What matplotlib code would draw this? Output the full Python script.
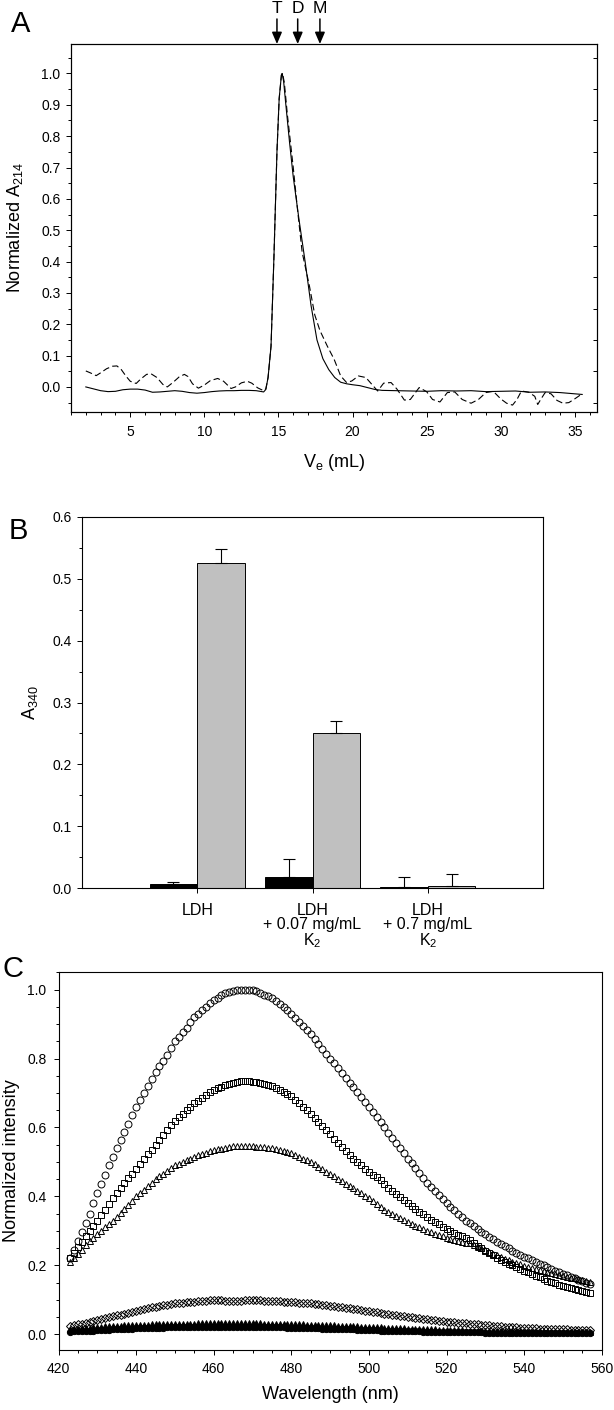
import numpy as np
import matplotlib
matplotlib.use("Agg")
import matplotlib.pyplot as plt
import matplotlib.transforms as mtransforms
from matplotlib.ticker import MultipleLocator, FormatStrFormatter

plt.rcParams['font.family'] = ['Liberation Sans', 'DejaVu Sans']
plt.rcParams['mathtext.fontset'] = 'custom'
plt.rcParams['mathtext.rm'] = 'Liberation Sans'
plt.rcParams['mathtext.default'] = 'regular'

# ---------------- panel A : elution profiles ----------------
ve_solid = [2.0, 2.5, 3.0, 3.5, 4.0, 4.5, 5.0, 5.5, 6.0, 6.5, 7.0, 7.5, 8.0, 8.5,
            9.0, 9.5, 10.0, 10.5, 11.0, 11.5, 12.0, 12.5, 13.0, 13.5, 14.0, 14.15,
            14.3, 14.5, 14.7, 14.9, 15.05, 15.2, 15.25, 15.35, 15.5, 15.75, 16.0,
            16.4, 16.8, 17.2, 17.6, 18.0, 18.4, 18.8, 19.2, 19.6, 20.0, 20.5, 21.0,
            21.5, 22.0, 23.0, 24.0, 25.0, 26.0, 27.0, 28.0, 29.0, 30.0, 31.0, 32.0,
            33.0, 34.0, 35.0, 35.5]
a_solid = [0.000, -0.006, -0.012, -0.015, -0.014, -0.009, -0.007, -0.007, -0.010,
           -0.017, -0.016, -0.014, -0.012, -0.014, -0.018, -0.020, -0.018, -0.015,
           -0.013, -0.012, -0.012, -0.011, -0.011, -0.012, -0.016, -0.008, 0.03,
           0.13, 0.42, 0.75, 0.92, 0.995, 1.000, 0.975, 0.90, 0.78, 0.67, 0.53,
           0.40, 0.26, 0.15, 0.09, 0.055, 0.030, 0.015, 0.010, 0.007, 0.004,
           -0.002, -0.008, -0.011, -0.012, -0.013, -0.014, -0.012, -0.013, -0.012,
           -0.015, -0.014, -0.013, -0.017, -0.016, -0.018, -0.022, -0.024]

ve_dash = [2.0, 2.3, 2.7, 3.0, 3.4, 3.8, 4.1, 4.4, 4.7, 5.0, 5.4, 5.7, 6.1, 6.4,
           6.8, 7.2, 7.5, 7.9, 8.3, 8.65, 8.9, 9.2, 9.6, 10.0, 10.4, 10.9, 11.3,
           11.8, 12.1, 12.5, 12.9, 13.2, 13.6, 14.0, 14.15, 14.3, 14.5, 14.7, 14.9,
           15.05, 15.2, 15.28, 15.4, 15.6, 16.0, 16.3, 16.6, 17.1, 17.45, 17.8,
           18.3, 18.76, 19.2, 19.6, 19.95, 20.4, 20.9, 21.4, 21.7, 22.1, 22.6,
           23.0, 23.5, 23.9, 24.5, 25.0, 25.4, 25.9, 26.4, 26.9, 27.4, 28.0, 28.5,
           29.0, 29.5, 30.0, 30.4, 30.8, 31.1, 31.4, 31.9, 32.3, 32.5, 32.7, 33.0,
           33.4, 33.8, 34.2, 34.6, 35.0, 35.4]
a_dash = [0.051, 0.045, 0.036, 0.045, 0.058, 0.066, 0.067, 0.055, 0.035, 0.018,
          0.011, 0.025, 0.040, 0.042, 0.030, 0.008, 0.000, 0.015, 0.032, 0.040,
          0.033, 0.010, -0.004, 0.006, 0.020, 0.027, 0.018, -0.005, 0.000, 0.013,
          0.018, 0.012, -0.003, -0.012, -0.006, 0.03, 0.13, 0.42, 0.75, 0.92,
          0.995, 1.000, 0.97, 0.87, 0.70, 0.56, 0.43, 0.32, 0.23, 0.18, 0.13,
          0.088, 0.035, 0.014, 0.019, 0.035, 0.030, 0.003, -0.013, 0.012, 0.014,
          -0.007, -0.042, -0.040, -0.002, -0.015, -0.040, -0.048, -0.018, -0.016,
          -0.040, -0.052, -0.040, -0.018, -0.014, -0.038, -0.052, -0.058, -0.040,
          -0.013, -0.017, -0.030, -0.056, -0.040, -0.018, -0.022, -0.043, -0.052,
          -0.050, -0.038, -0.025]

marker_ve = [14.9, 16.3, 17.8]
marker_labels = ["T", "D", "M"]

# ---------------- panel B : LDH activity ----------------
groups = ["LDH", "LDH\n+ 0.07 mg/mL\nK$_2$", "LDH\n+ 0.7 mg/mL\nK$_2$"]
black_vals = [0.006, 0.017, 0.002]
black_err = [0.003, 0.030, 0.016]
gray_vals = [0.525, 0.251, 0.003]
gray_err = [0.023, 0.019, 0.020]

# ---------------- panel C : fluorescence spectra ----------------
wl = np.arange(423, 558)
circles = [0.220, 0.245, 0.270, 0.297, 0.323, 0.350, 0.380, 0.410, 0.437, 0.463,
           0.490, 0.515, 0.540, 0.565, 0.588, 0.610, 0.635, 0.660, 0.680, 0.700,
           0.720, 0.740, 0.760, 0.777, 0.793, 0.810, 0.830, 0.850, 0.863, 0.877,
           0.890, 0.905, 0.920, 0.930, 0.940, 0.950, 0.960, 0.970, 0.977, 0.984,
           0.990, 0.993, 0.995, 0.998, 1.000, 1.000, 1.000, 1.000, 0.996, 0.990,
           0.985, 0.980, 0.975, 0.967, 0.958, 0.949, 0.940, 0.930, 0.918, 0.906,
           0.894, 0.882, 0.870, 0.856, 0.842, 0.828, 0.814, 0.800, 0.786, 0.772,
           0.758, 0.744, 0.730, 0.716, 0.702, 0.688, 0.674, 0.660, 0.645, 0.630,
           0.615, 0.600, 0.585, 0.570, 0.555, 0.540, 0.525, 0.510, 0.496, 0.482,
           0.468, 0.454, 0.440, 0.428, 0.416, 0.404, 0.392, 0.380, 0.370, 0.360,
           0.350, 0.340, 0.330, 0.322, 0.314, 0.306, 0.298, 0.290, 0.283, 0.276,
           0.269, 0.262, 0.255, 0.249, 0.243, 0.237, 0.231, 0.225, 0.220, 0.215,
           0.210, 0.205, 0.200, 0.195, 0.190, 0.185, 0.180, 0.175, 0.171, 0.167,
           0.163, 0.159, 0.155, 0.150, 0.145]
squares = [0.220, 0.236, 0.252, 0.268, 0.284, 0.300, 0.315, 0.330, 0.346, 0.362,
           0.378, 0.394, 0.410, 0.424, 0.438, 0.452, 0.466, 0.480, 0.494, 0.508,
           0.522, 0.536, 0.550, 0.564, 0.578, 0.592, 0.606, 0.620, 0.630, 0.640,
           0.650, 0.660, 0.670, 0.678, 0.686, 0.694, 0.702, 0.710, 0.714, 0.718,
           0.722, 0.726, 0.730, 0.732, 0.734, 0.735, 0.735, 0.733, 0.731, 0.729,
           0.726, 0.723, 0.720, 0.714, 0.708, 0.702, 0.696, 0.690, 0.680, 0.670,
           0.660, 0.650, 0.640, 0.628, 0.616, 0.604, 0.592, 0.580, 0.568, 0.556,
           0.544, 0.532, 0.520, 0.510, 0.500, 0.490, 0.480, 0.470, 0.462, 0.455,
           0.447, 0.436, 0.425, 0.416, 0.407, 0.398, 0.389, 0.380, 0.372, 0.364,
           0.356, 0.348, 0.340, 0.333, 0.326, 0.319, 0.312, 0.305, 0.300, 0.294,
           0.289, 0.284, 0.278, 0.273, 0.265, 0.257, 0.249, 0.241, 0.235, 0.229,
           0.222, 0.216, 0.210, 0.205, 0.200, 0.195, 0.190, 0.185, 0.180, 0.175,
           0.170, 0.165, 0.160, 0.156, 0.152, 0.148, 0.144, 0.140, 0.137, 0.134,
           0.131, 0.128, 0.125, 0.122, 0.120]
triangles = [0.210, 0.222, 0.234, 0.246, 0.258, 0.270, 0.280, 0.290, 0.300, 0.310,
             0.320, 0.330, 0.340, 0.352, 0.364, 0.376, 0.388, 0.400, 0.410, 0.420,
             0.430, 0.440, 0.450, 0.458, 0.466, 0.474, 0.482, 0.490, 0.495, 0.500,
             0.505, 0.510, 0.515, 0.519, 0.523, 0.527, 0.531, 0.535, 0.537, 0.539,
             0.541, 0.543, 0.545, 0.545, 0.545, 0.546, 0.546, 0.545, 0.544, 0.543,
             0.542, 0.541, 0.540, 0.537, 0.534, 0.531, 0.528, 0.525, 0.520, 0.515,
             0.510, 0.505, 0.500, 0.493, 0.486, 0.479, 0.472, 0.465, 0.458, 0.451,
             0.444, 0.437, 0.430, 0.423, 0.416, 0.409, 0.402, 0.395, 0.387, 0.378,
             0.370, 0.362, 0.355, 0.349, 0.343, 0.337, 0.331, 0.325, 0.320, 0.315,
             0.310, 0.305, 0.300, 0.296, 0.292, 0.288, 0.284, 0.280, 0.277, 0.275,
             0.272, 0.269, 0.266, 0.264, 0.259, 0.254, 0.249, 0.244, 0.239, 0.234,
             0.229, 0.224, 0.219, 0.215, 0.211, 0.207, 0.203, 0.199, 0.196, 0.193,
             0.189, 0.186, 0.183, 0.180, 0.177, 0.174, 0.171, 0.168, 0.166, 0.164,
             0.162, 0.160, 0.157, 0.154, 0.151]
diamonds = [0.025, 0.027, 0.029, 0.031, 0.033, 0.035, 0.038, 0.041, 0.044, 0.047,
            0.050, 0.053, 0.055, 0.057, 0.059, 0.062, 0.065, 0.068, 0.070, 0.073,
            0.075, 0.078, 0.080, 0.082, 0.084, 0.086, 0.088, 0.090, 0.091, 0.092,
            0.093, 0.094, 0.095, 0.096, 0.097, 0.098, 0.099, 0.100, 0.100, 0.099,
            0.098, 0.097, 0.097, 0.097, 0.098, 0.099, 0.100, 0.100, 0.100, 0.099,
            0.098, 0.098, 0.097, 0.097, 0.096, 0.095, 0.095, 0.094, 0.093, 0.092,
            0.092, 0.091, 0.090, 0.089, 0.087, 0.086, 0.084, 0.083, 0.081, 0.080,
            0.078, 0.077, 0.075, 0.074, 0.072, 0.071, 0.069, 0.068, 0.066, 0.064,
            0.062, 0.060, 0.058, 0.056, 0.055, 0.053, 0.052, 0.050, 0.049, 0.047,
            0.046, 0.044, 0.043, 0.042, 0.041, 0.039, 0.038, 0.037, 0.036, 0.035,
            0.034, 0.033, 0.032, 0.031, 0.030, 0.029, 0.028, 0.027, 0.026, 0.025,
            0.024, 0.023, 0.022, 0.022, 0.021, 0.020, 0.019, 0.018, 0.018, 0.017,
            0.017, 0.016, 0.016, 0.015, 0.015, 0.015, 0.014, 0.014, 0.014, 0.013,
            0.013, 0.013, 0.013, 0.012, 0.012]
filled_up = [0.014, 0.015, 0.016, 0.017, 0.018, 0.019, 0.020, 0.021, 0.022, 0.023,
             0.024, 0.024, 0.025, 0.025, 0.026, 0.026, 0.027, 0.027, 0.028, 0.028,
             0.028, 0.029, 0.029, 0.029, 0.030, 0.030, 0.030, 0.030, 0.031, 0.031,
             0.031, 0.031, 0.031, 0.032, 0.032, 0.032, 0.032, 0.033, 0.033, 0.032,
             0.032, 0.032, 0.032, 0.032, 0.032, 0.032, 0.032, 0.032, 0.032, 0.032,
             0.031, 0.031, 0.031, 0.031, 0.030, 0.030, 0.030, 0.030, 0.029, 0.029,
             0.029, 0.028, 0.028, 0.028, 0.027, 0.027, 0.026, 0.026, 0.026, 0.025,
             0.025, 0.024, 0.024, 0.023, 0.023, 0.022, 0.022, 0.021, 0.021, 0.020,
             0.020, 0.019, 0.019, 0.018, 0.018, 0.017, 0.017, 0.016, 0.016, 0.016,
             0.015, 0.015, 0.014, 0.014, 0.014, 0.013, 0.013, 0.013, 0.012, 0.012,
             0.012, 0.012, 0.011, 0.011, 0.011, 0.011, 0.010, 0.010, 0.010, 0.010,
             0.010, 0.009, 0.009, 0.009, 0.009, 0.009, 0.009, 0.008, 0.008, 0.008,
             0.008, 0.008, 0.008, 0.008, 0.008, 0.007, 0.007, 0.007, 0.007, 0.007,
             0.007, 0.007, 0.007, 0.007, 0.007]
filled_low = [0.008, 0.009, 0.009, 0.010, 0.010, 0.011, 0.011, 0.012, 0.012, 0.013,
              0.013, 0.014, 0.014, 0.015, 0.015, 0.016, 0.016, 0.017, 0.017, 0.018,
              0.018, 0.018, 0.019, 0.019, 0.019, 0.020, 0.020, 0.020, 0.020, 0.021,
              0.021, 0.021, 0.021, 0.021, 0.022, 0.022, 0.022, 0.022, 0.022, 0.022,
              0.022, 0.022, 0.022, 0.022, 0.022, 0.022, 0.022, 0.021, 0.021, 0.021,
              0.021, 0.021, 0.020, 0.020, 0.020, 0.020, 0.019, 0.019, 0.019, 0.018,
              0.018, 0.018, 0.017, 0.017, 0.017, 0.016, 0.016, 0.016, 0.015, 0.015,
              0.015, 0.014, 0.014, 0.014, 0.013, 0.013, 0.013, 0.012, 0.012, 0.012,
              0.011, 0.011, 0.011, 0.010, 0.010, 0.010, 0.010, 0.009, 0.009, 0.009,
              0.009, 0.008, 0.008, 0.008, 0.008, 0.008, 0.007, 0.007, 0.007, 0.007,
              0.007, 0.006, 0.006, 0.006, 0.006, 0.006, 0.006, 0.005, 0.005, 0.005,
              0.005, 0.005, 0.005, 0.005, 0.005, 0.004, 0.004, 0.004, 0.004, 0.004,
              0.004, 0.004, 0.004, 0.004, 0.004, 0.004, 0.003, 0.003, 0.003, 0.003,
              0.003, 0.003, 0.003, 0.003, 0.003]

W, H = 614, 1410
fig = plt.figure(figsize=(W / 100, H / 100), dpi=100)


def px_axes(l, t, r, b):
    return fig.add_axes([l / W, 1 - b / H, (r - l) / W, (b - t) / H])


def style(ax):
    for s in ax.spines.values():
        s.set_linewidth(0.8)
    ax.tick_params(which='major', direction='out', length=3.6, width=0.7, labelsize=10)
    ax.tick_params(which='minor', direction='out', length=2.2, width=0.7)
    ax.tick_params(top=False, right=False)


# ---- A ----
axA = px_axes(71, 44, 597, 412)
style(axA)
axA.plot(ve_solid, a_solid, color='black', lw=0.8)
axA.plot(ve_dash, a_dash, color='black', lw=0.8, dashes=(6, 3))
axA.set_xlim(1, 36.5)
axA.set_ylim(-0.08, 1.094)
axA.xaxis.set_major_locator(MultipleLocator(5))
axA.xaxis.set_minor_locator(MultipleLocator(1))
axA.yaxis.set_major_locator(MultipleLocator(0.1))
axA.yaxis.set_minor_locator(MultipleLocator(0.05))
axA.yaxis.set_major_formatter(FormatStrFormatter('%.1f'))
axA.tick_params(axis='x', pad=6)
axA.tick_params(axis='y', pad=4)
axA.set_xlabel("V$_e$ (mL)", fontsize=13)
axA.xaxis.set_label_coords(0.5, -0.138)
axA.xaxis.label.set_va('center')
axA.set_ylabel("Normalized A$_{214}$", fontsize=13)
axA.yaxis.set_label_coords(-0.106, 0.5)
axA.yaxis.label.set_va('center')

axAr = axA.twinx()
axAr.set_ylim(axA.get_ylim())
axAr.set_yticks([-0.05, 0.05, 0.15, 0.25, 0.35, 0.45, 0.55, 0.65, 0.75, 0.85, 0.95, 1.05])
axAr.tick_params(axis='y', direction='in', length=3, width=0.7, labelright=False)
for s in axAr.spines.values():
    s.set_linewidth(0.8)

trA = mtransforms.blended_transform_factory(axA.transData, axA.transAxes)
for x, lab in zip(marker_ve, marker_labels):
    axA.annotate('', xy=(x, 1.0), xycoords=trA, xytext=(x, 1.068), textcoords=trA,
                 annotation_clip=False,
                 arrowprops=dict(arrowstyle='-|>,head_length=0.7,head_width=0.3',
                                 color='black', lw=1.1, mutation_scale=10,
                                 shrinkA=0, shrinkB=0))
    axA.text(x, 1.097, lab, transform=trA, ha='center', va='center', fontsize=12.5)

# ---- B ----
axB = px_axes(82, 517, 543, 888)
style(axB)
xg = np.arange(1, len(groups) + 1)
bw = 0.414
axB.bar(xg - bw / 2, black_vals, bw, color='black', edgecolor='black', lw=0.7)
axB.bar(xg + bw / 2, gray_vals, bw, color='#c0c0c0', edgecolor='black', lw=0.7)
axB.errorbar(xg - bw / 2, black_vals, yerr=[np.zeros(3), black_err], fmt='none',
             ecolor='black', elinewidth=0.8, capsize=4, capthick=0.8)
axB.errorbar(xg + bw / 2, gray_vals, yerr=[np.zeros(3), gray_err], fmt='none',
             ecolor='black', elinewidth=0.8, capsize=4, capthick=0.8)
axB.set_xlim(0, 4)
axB.set_ylim(0, 0.6)
axB.set_xticks(xg)
axB.set_xticklabels(groups, fontsize=11.5, linespacing=0.95)
axB.yaxis.set_major_locator(MultipleLocator(0.1))
axB.yaxis.set_minor_locator(MultipleLocator(0.05))
axB.yaxis.set_major_formatter(FormatStrFormatter('%.1f'))
axB.tick_params(axis='x', pad=7)
axB.tick_params(axis='y', pad=4)
axB.set_ylabel("A$_{340}$", fontsize=13)
axB.yaxis.set_label_coords(-0.113, 0.5)
axB.yaxis.label.set_va('center')

# ---- C ----
axC = px_axes(58.5, 972, 601.7, 1350)
style(axC)
mk = dict(ls='none', markeredgecolor='black', markeredgewidth=0.7)
axC.plot(wl, filled_low, marker='o', ms=4.5, markerfacecolor='black', **mk)
axC.plot(wl, filled_up, marker='^', ms=5, markerfacecolor='black', **mk)
axC.plot(wl, diamonds, marker='D', ms=4, markerfacecolor='none', **mk)
axC.plot(wl, triangles, marker='^', ms=5, markerfacecolor='none', **mk)
axC.plot(wl, squares, marker='s', ms=4.5, markerfacecolor='none', **mk)
axC.plot(wl, circles, marker='o', ms=5, markerfacecolor='none', **mk)
axC.set_xlim(420, 560)
axC.set_ylim(-0.0455, 1.051)
axC.xaxis.set_major_locator(MultipleLocator(20))
axC.xaxis.set_minor_locator(MultipleLocator(5))
axC.yaxis.set_major_locator(MultipleLocator(0.2))
axC.yaxis.set_minor_locator(MultipleLocator(0.05))
axC.yaxis.set_major_formatter(FormatStrFormatter('%.1f'))
axC.tick_params(axis='both', pad=5)
axC.set_xlabel("Wavelength (nm)", fontsize=13)
axC.xaxis.set_label_coords(0.5, -0.119)
axC.xaxis.label.set_va('center')
axC.set_ylabel("Normalized intensity", fontsize=13)
axC.yaxis.set_label_coords(-0.087, 0.5)
axC.yaxis.label.set_va('center')

# panel letters
fig.text(11 / W, 1 - 32 / H, "A", fontsize=21, va='baseline')
fig.text(9 / W, 1 - 539 / H, "B", fontsize=21, va='baseline')
fig.text(2 / W, 1 - 977 / H, "C", fontsize=21, va='baseline')

fig.savefig("out.png", dpi=100)
